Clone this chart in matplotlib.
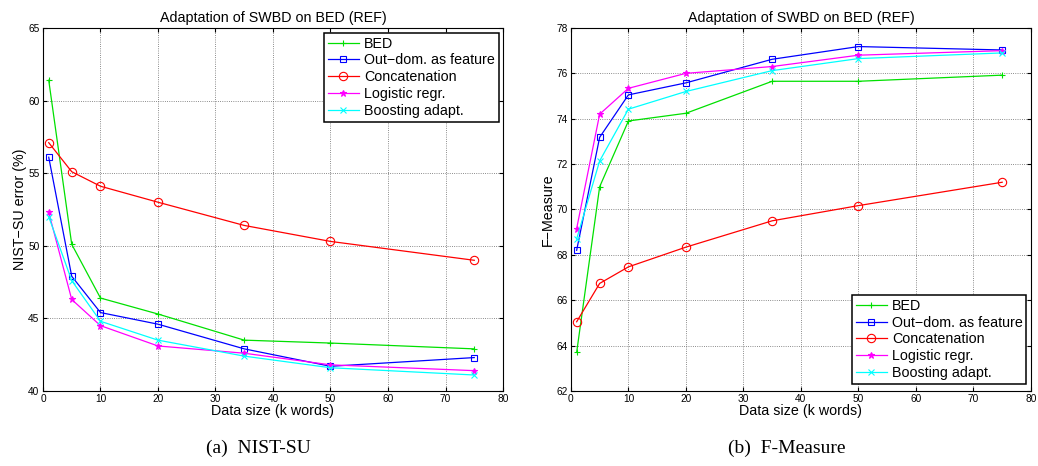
import matplotlib
matplotlib.use('Agg')
import matplotlib.pyplot as plt

plt.rcParams['font.family'] = ['Liberation Sans', 'DejaVu Sans']

x = [1, 5, 10, 20, 35, 50, 75]
labels = ['BED', 'Out\u2212dom. as feature', 'Concatenation', 'Logistic regr.', 'Boosting adapt.']

# NIST-SU error (%)
nist_bed = [61.4, 50.1, 46.4, 45.3, 43.5, 43.3, 42.9]
nist_out = [56.1, 47.9, 45.4, 44.6, 42.9, 41.7, 42.3]
nist_cat = [57.1, 55.1, 54.1, 53.0, 51.4, 50.3, 49.0]
nist_log = [52.3, 46.3, 44.5, 43.1, 42.6, 41.8, 41.4]
nist_boo = [52.0, 47.6, 44.8, 43.5, 42.4, 41.6, 41.1]

# F-Measure
f_bed = [63.7, 71.0, 73.9, 74.24, 75.65, 75.65, 75.92]
f_out = [68.2, 73.18, 75.05, 75.58, 76.62, 77.18, 77.03]
f_cat = [65.05, 66.74, 67.47, 68.34, 69.5, 70.17, 71.2]
f_log = [69.16, 74.2, 75.34, 76.0, 76.3, 76.8, 77.0]
f_boo = [68.7, 72.14, 74.42, 75.2, 76.12, 76.65, 76.9]

colors = ['#00e000', '#0000ff', '#ff0000', '#ff00ff', '#00ffff']
markers = ['+', 's', 'o', '*', 'x']
msizes = [5, 5, 6, 5, 4]


def draw(ax, series, ylim, yticks, ylabel, loc_box):
    for i in range(len(series)):
        ax.plot(x, series[i], color=colors[i], marker=markers[i], markersize=msizes[i],
                markerfacecolor='none' if markers[i] in ('s', 'o') else colors[i],
                markeredgewidth=0.8, linewidth=0.9, label=labels[i])
    ax.set_xlim(0, 80)
    ax.set_ylim(ylim)
    ax.set_xticks(range(0, 81, 10))
    ax.set_yticks(yticks)
    ax.tick_params(direction='in', labelsize=7.3, length=3, top=True, right=True, pad=2.5)
    ax.grid(True, linestyle=':', color='#666666', linewidth=0.6)
    ax.set_title('Adaptation of SWBD on BED (REF)', fontsize=10.3, pad=4)
    ax.set_xlabel('Data size (k words)', fontsize=10.3, labelpad=0)
    ax.set_ylabel(ylabel, fontsize=10.3, labelpad=1)
    leg = ax.legend(loc='upper left', bbox_to_anchor=loc_box, fontsize=10.3,
                    fancybox=False, framealpha=1, edgecolor='black',
                    handlelength=2.2, borderpad=0.25, labelspacing=0.2,
                    handletextpad=0.35, borderaxespad=0)
    leg.get_frame().set_linewidth(1.1)
    for s in ax.spines.values():
        s.set_linewidth(0.8)


fig = plt.figure(figsize=(10.38, 4.66), dpi=100)
ax1 = fig.add_axes([0.0414, 0.161, 0.4432, 0.779])
ax2 = fig.add_axes([0.550, 0.161, 0.4432, 0.779])

draw(ax1, [nist_bed, nist_out, nist_cat, nist_log, nist_boo], (40, 65),
     range(40, 66, 5), 'NIST\u2212SU error (%)', (0.611, 0.986))
draw(ax2, [f_bed, f_out, f_cat, f_log, f_boo], (62, 78),
     range(62, 79, 2), 'F\u2212Measure', (0.611, 0.264))

fig.text(0.249, 0.037, '(a)  NIST-SU', ha='center', va='center',
         fontsize=14, family=['Liberation Serif', 'DejaVu Serif'])
fig.text(0.758, 0.037, '(b)  F-Measure', ha='center', va='center',
         fontsize=14, family=['Liberation Serif', 'DejaVu Serif'])

fig.savefig('out.png', dpi=100)
